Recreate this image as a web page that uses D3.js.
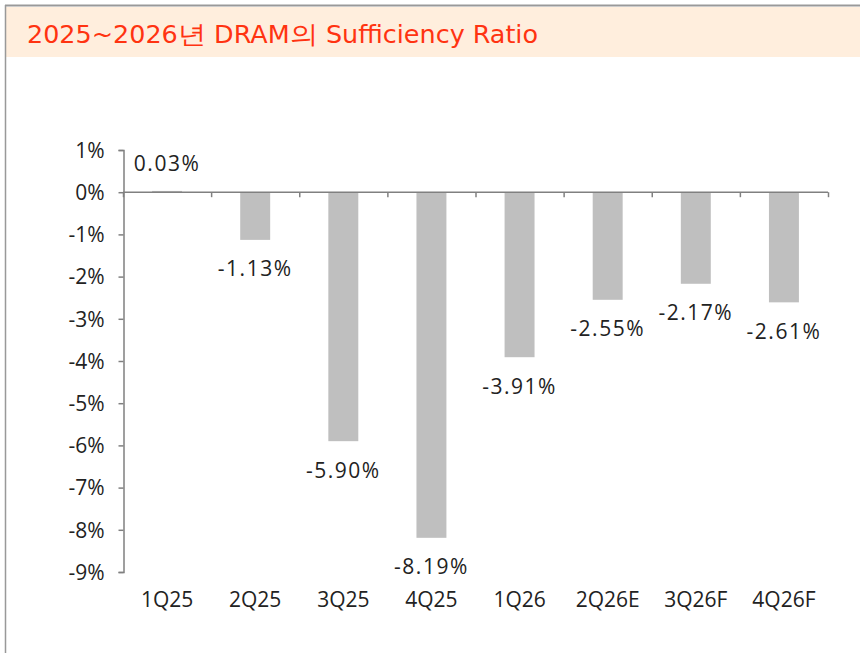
<!DOCTYPE html>
<html>
<head>
<meta charset="utf-8">
<script src="https://cdn.jsdelivr.net/npm/d3@7"></script>
<style>
  body { margin: 0; background: #fff; }
  text { font-family: "Open Sans", sans-serif; }
</style>
</head>
<body>
<svg id="chart"></svg>
<script>
const W = 860, H = 653;

// data
const title = "2025~2026년 DRAM의 Sufficiency Ratio";
const quarters = ["1Q25", "2Q25", "3Q25", "4Q25", "1Q26", "2Q26E", "3Q26F", "4Q26F"];
const ratios = [0.03, -1.13, -5.90, -8.19, -3.91, -2.55, -2.17, -2.61];
const yTicks = [1, 0, -1, -2, -3, -4, -5, -6, -7, -8, -9];

const svg = d3.select("#chart")
    .attr("width", W)
    .attr("height", H);

// frame + title band
svg.append("rect")
    .attr("x", 6).attr("y", 7)
    .attr("width", W - 6).attr("height", 50)
    .attr("fill", "#ffeedd");
svg.append("line")
    .attr("x1", 5).attr("x2", W).attr("y1", 5.5).attr("y2", 5.5)
    .attr("stroke", "#999").attr("stroke-width", 2);
svg.append("line")
    .attr("x1", 5.5).attr("x2", 5.5).attr("y1", 5).attr("y2", H)
    .attr("stroke", "#999").attr("stroke-width", 1.5);
svg.append("text")
    .attr("x", 27).attr("y", 43)
    .attr("fill", "#ff3311")
    .style("font-family", "'Liberation Sans Narrow', 'DejaVu Sans Condensed', sans-serif")
    .style("font-size", "25px")
    .attr("textLength", 511)
    .attr("lengthAdjust", "spacingAndGlyphs")
    .text(title);

// scales
const x = d3.scaleBand()
    .domain(quarters)
    .range([123, 828])
    .paddingInner(0.66)
    .paddingOuter(0.33);
const y = d3.scaleLinear()
    .domain([-9, 1])
    .range([572, 150]);

const axisColor = "#808080";

// y axis
const yAxis = svg.append("g")
    .attr("transform", "translate(123.5,0)")
    .call(d3.axisLeft(y).tickValues(yTicks).tickSize(5).tickPadding(14)
        .tickFormat(d => d + "%"));
yAxis.select(".domain").attr("stroke", axisColor).attr("stroke-width", 1.5);
yAxis.selectAll(".tick line").attr("stroke", axisColor).attr("stroke-width", 1.5);
yAxis.selectAll(".tick text")
    .attr("fill", "#222")
    .style("font-size", "21px")
    .attr("dy", "0.35em");

// bars
svg.append("g")
  .selectAll("rect")
  .data(ratios)
  .join("rect")
    .attr("x", (d, i) => x(quarters[i]))
    .attr("width", x.bandwidth())
    .attr("y", d => y(Math.max(0, d)))
    .attr("height", d => Math.abs(y(d) - y(0)))
    .attr("fill", "#bfbfbf");

// x axis (zero line) with downward ticks at category boundaries
const bounds = d3.range(quarters.length + 1);
const step = x.step();
svg.append("line")
    .attr("x1", 123).attr("x2", 828)
    .attr("y1", y(0)).attr("y2", y(0))
    .attr("stroke", axisColor).attr("stroke-width", 1.5);
svg.append("g")
  .selectAll("line")
  .data(bounds)
  .join("line")
    .attr("x1", d => 123.5 + d * step)
    .attr("x2", d => 123.5 + d * step)
    .attr("y1", y(0)).attr("y2", y(0) + 5)
    .attr("stroke", axisColor).attr("stroke-width", 1.5);

// value labels
svg.append("g")
  .selectAll("text")
  .data(ratios)
  .join("text")
    .attr("x", (d, i) => x(quarters[i]) + x.bandwidth() / 2)
    .attr("y", d => d >= 0 ? y(d) - 27 : y(d) + 29)
    .attr("dy", "0.35em")
    .attr("text-anchor", "middle")
    .attr("fill", "#222")
    .style("font-size", "21px")
    .style("letter-spacing", "1.5px")
    .text(d => d.toFixed(2) + "%");

// category labels
svg.append("g")
  .selectAll("text")
  .data(quarters)
  .join("text")
    .attr("x", d => x(d) + x.bandwidth() / 2)
    .attr("y", 600)
    .attr("dy", "0.35em")
    .attr("text-anchor", "middle")
    .attr("fill", "#222")
    .style("font-size", "21px")
    .text(d => d);
</script>
</body>
</html>
